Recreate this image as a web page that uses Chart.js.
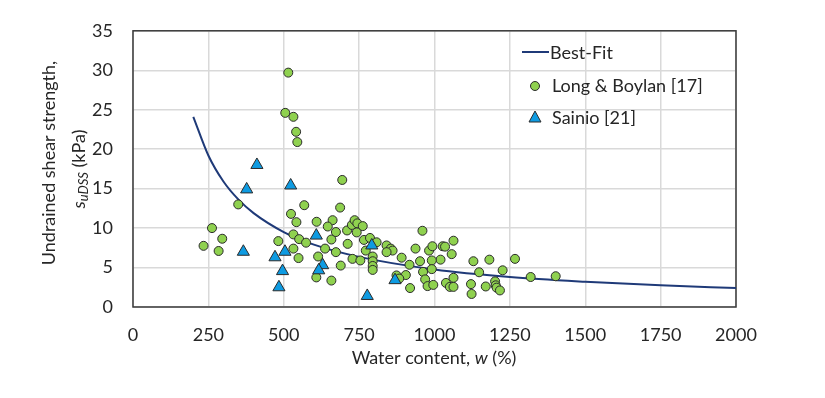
<!DOCTYPE html>
<html>
<head>
<meta charset="utf-8">
<script src="https://cdn.jsdelivr.net/npm/chart.js@4.4.0/dist/chart.umd.min.js"></script>
<style>
  body { margin: 0; background: #fff; }
  #wrap { width: 825px; height: 398px; }
</style>
</head>
<body>
<div id="wrap"><canvas id="myChart" width="825" height="398"></canvas></div>
<script>
// best-fit curve
const fitW = [200, 250, 300, 350, 400, 500, 600, 750, 1000, 1250, 1500, 1750, 2000];
const fitSu = [24.1, 19.2, 15.9, 13.6, 11.9, 9.5, 7.9, 6.35, 4.75, 3.8, 3.2, 2.75, 2.4];

// Long & Boylan [17]
const lbW = [515, 505, 532, 541, 545, 694, 349, 568, 687, 524, 542, 609, 662, 646, 262, 296, 284, 234,
    482, 532, 551, 574, 532, 549, 637, 658, 673, 673, 712, 614, 689, 608, 658, 710, 726, 735, 744, 762,
    742, 728, 754, 766, 786, 808, 772, 795, 795, 795, 795, 841, 855, 861, 841, 891, 874, 905, 883, 919,
    937, 917, 952, 960, 962, 969, 977, 982, 993, 1027, 1035, 1063, 1057, 1020, 991, 991, 996, 1038,
    1051, 1063, 1063, 1129, 1182, 1267, 1148, 1226, 1319, 1402, 1121, 1123, 1170, 1201, 1203, 1206, 1217];
const lbSu = [29.7, 24.6, 24.1, 22.2, 20.9, 16.1, 13.0, 12.9, 12.6, 11.8, 10.75, 10.8, 11.0, 10.2, 10.0, 8.65, 7.1, 7.75,
    8.35, 9.2, 8.6, 8.15, 7.4, 6.2, 7.4, 8.55, 9.5, 6.95, 8.0, 6.4, 5.25, 3.75, 3.35, 9.7, 10.4, 11.0, 10.6, 10.25,
    9.45, 6.1, 5.9, 8.5, 8.75, 8.2, 7.15, 6.4, 5.8, 5.2, 4.7, 7.8, 7.4, 7.15, 6.95, 6.25, 4.0, 4.05, 3.6, 2.4,
    7.4, 5.35, 5.8, 9.66, 4.45, 3.5, 2.65, 7.15, 7.7, 7.7, 7.65, 8.4, 6.7, 6.0, 5.9, 4.8, 2.8, 3.05,
    2.55, 2.55, 3.7, 5.8, 6.0, 6.1, 4.4, 4.65, 3.8, 3.9, 2.9, 1.65, 2.6, 3.25, 2.75, 2.45, 2.1];

// Sainio [21]
const saW = [411, 377, 523, 366, 471, 504, 496, 484, 608, 629, 616, 792, 777, 869];
const saSu = [18.0, 14.9, 15.4, 7.0, 6.3, 7.0, 4.55, 2.5, 9.05, 5.3, 4.65, 7.8, 1.4, 3.4];

const seriesNames = ['Best-Fit', 'Long & Boylan [17]', 'Sainio [21]'];

const FONT = 'Lato, "Open Sans", sans-serif';
const GREEN = '#8FD14F';
const BLUE = '#0E9BE2';
const NAVY = '#1F3A78';
const EDGE = '#2b2b2b';

function toPts(xs, ys) {
    return xs.map((x, i) => ({ x: x, y: ys[i] }));
}

// axis titles, frame and legend drawn by hand
const decor = {
    id: 'decor',
    beforeDatasetsDraw(chart) {
        const { ctx, chartArea: a } = chart;
        ctx.save();
        ctx.strokeStyle = '#3a3a3a';
        ctx.lineWidth = 1.5;
        ctx.strokeRect(a.left, a.top, a.right - a.left, a.bottom - a.top);
        ctx.restore();
    },
    afterDraw(chart) {
        const { ctx } = chart;
        ctx.save();
        ctx.fillStyle = '#262626';
        ctx.textBaseline = 'middle';

        // x title: "Water content, w (%)"
        const parts = [
            ['Water content, ', '18px ' + FONT],
            ['w', 'italic 18px ' + FONT],
            [' (%)', '18px ' + FONT]
        ];
        let total = 0;
        for (const p of parts) { ctx.font = p[1]; total += ctx.measureText(p[0]).width; }
        let x = 434 - total / 2;
        for (const p of parts) {
            ctx.font = p[1];
            ctx.textAlign = 'left';
            ctx.fillText(p[0], x, 358);
            x += ctx.measureText(p[0]).width;
        }

        // y title, two lines rotated
        ctx.save();
        ctx.translate(49, 163);
        ctx.rotate(-Math.PI / 2);
        ctx.font = '18px ' + FONT;
        ctx.textAlign = 'center';
        ctx.fillText('Undrained shear strength,', 0, 0);
        ctx.restore();

        ctx.save();
        ctx.translate(79, 169);
        ctx.rotate(-Math.PI / 2);
        const yp = [
            ['s', 'italic 18px ' + FONT, 0],
            ['uDSS', 'italic 13px ' + FONT, 5],
            [' (kPa)', '18px ' + FONT, 0]
        ];
        total = 0;
        for (const p of yp) { ctx.font = p[1]; total += ctx.measureText(p[0]).width; }
        x = -total / 2;
        ctx.textAlign = 'left';
        for (const p of yp) {
            ctx.font = p[1];
            ctx.fillText(p[0], x, p[2]);
            x += ctx.measureText(p[0]).width;
        }
        ctx.restore();

        // legend
        ctx.font = '18px ' + FONT;
        ctx.textAlign = 'left';
        ctx.fillStyle = '#262626';
        ctx.strokeStyle = NAVY;
        ctx.lineWidth = 2;
        ctx.beginPath();
        ctx.moveTo(522, 52);
        ctx.lineTo(549, 52);
        ctx.stroke();
        ctx.fillText(seriesNames[0], 550, 53);

        ctx.fillStyle = GREEN;
        ctx.strokeStyle = EDGE;
        ctx.lineWidth = 1;
        ctx.beginPath();
        ctx.arc(535, 86, 4.5, 0, Math.PI * 2);
        ctx.fill();
        ctx.stroke();
        ctx.fillStyle = '#262626';
        ctx.fillText(seriesNames[1], 552, 86);

        ctx.fillStyle = BLUE;
        ctx.beginPath();
        ctx.moveTo(535, 111);
        ctx.lineTo(541, 122);
        ctx.lineTo(529, 122);
        ctx.closePath();
        ctx.fill();
        ctx.stroke();
        ctx.fillStyle = '#262626';
        ctx.fillText(seriesNames[2], 552, 118);
        ctx.restore();
    }
};

const ctx = document.getElementById('myChart').getContext('2d');

const myChart = new Chart(ctx, {
    type: 'scatter',
    data: {
        datasets: [
            {
                label: seriesNames[0],
                data: toPts(fitW, fitSu),
                showLine: true,
                borderColor: NAVY,
                borderWidth: 2,
                pointRadius: 0,
                cubicInterpolationMode: 'monotone',
                order: 3
            },
            {
                label: seriesNames[1],
                data: toPts(lbW, lbSu),
                pointStyle: 'circle',
                pointRadius: 4.5,
                backgroundColor: GREEN,
                borderColor: EDGE,
                borderWidth: 1,
                order: 2
            },
            {
                label: seriesNames[2],
                data: toPts(saW, saSu),
                pointStyle: 'triangle',
                pointRadius: 7,
                backgroundColor: BLUE,
                borderColor: EDGE,
                borderWidth: 1,
                order: 1
            }
        ]
    },
    options: {
        responsive: false,
        animation: false,
        layout: { padding: { top: 28, right: 89, left: 0, bottom: 0 } },
        plugins: {
            legend: { display: false },
            tooltip: { enabled: false }
        },
        scales: {
            x: {
                min: 0,
                max: 2000,
                border: { display: false },
                grid: { color: '#D9D9D9', lineWidth: 1.5, drawTicks: false },
                ticks: {
                    stepSize: 250,
                    padding: 17,
                    color: '#262626',
                    font: { family: FONT, size: 18 },
                    maxRotation: 0,
                    callback: (v) => String(v)
                },
                afterFit(scale) { scale.height = 91; }
            },
            y: {
                min: 0,
                max: 35,
                border: { display: false },
                grid: { color: '#D9D9D9', lineWidth: 1.5, drawTicks: false },
                ticks: {
                    stepSize: 5,
                    padding: 20,
                    color: '#262626',
                    font: { family: FONT, size: 18 },
                    callback: (v) => String(v)
                },
                afterFit(scale) { scale.width = 133; }
            }
        }
    },
    plugins: [decor]
});
</script>
</body>
</html>
